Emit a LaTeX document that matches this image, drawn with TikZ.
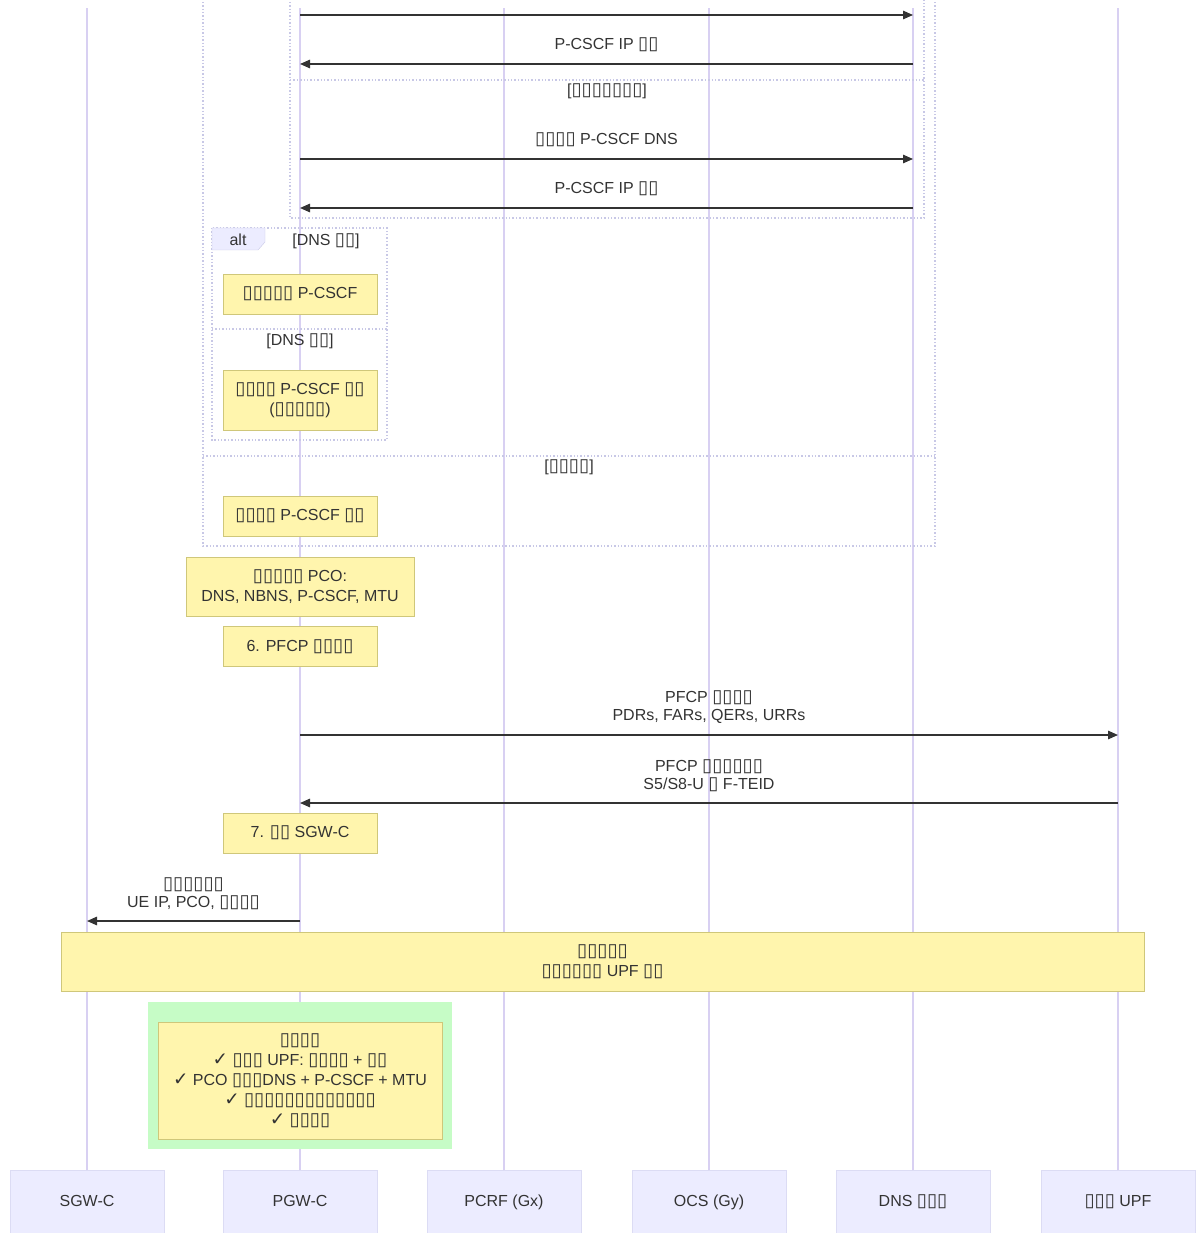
\documentclass[tikz,border=0pt]{standalone}
\usepackage{fontspec}
\setmainfont{Liberation Sans}
\newfontfamily\boxfont{DejaVu Sans}[Scale=1.15]
\usetikzlibrary{arrows.meta, positioning}
\definecolor{lifeline}{HTML}{D8D0F2}
\definecolor{actorfill}{HTML}{ECECFF}
\definecolor{actorline}{HTML}{DCDCF4}
\definecolor{notefill}{HTML}{FFF5AD}
\definecolor{noteline}{HTML}{CFC77A}
\definecolor{framecol}{HTML}{C8C8E6}
\definecolor{msgcol}{HTML}{333333}
\definecolor{donegreen}{HTML}{C6FCC6}
\newcommand{\cjk}[1]{{\boxfont #1}}
\newcommand{\ok}{{\boxfont ✓}}

\begin{document}
\begin{tikzpicture}[
    x=1pt, y=-1pt,
    font=\fontsize{16}{20}\selectfont,
    actor/.style={rectangle, draw=actorline, fill=actorfill, minimum width=154, minimum height=63, text height=11.5, text depth=3.5, text=msgcol},
    life/.style={draw=lifeline, line width=1.2},
    note/.style={rectangle, draw=noteline, fill=notefill, minimum width=154, minimum height=40, align=center, text=msgcol},
    msg/.style={-{Triangle[length=10pt, width=8.5pt]}, line width=1.4, msgcol},
    msglabel/.style={align=center, text=msgcol, font=\fontsize{16}{18.5}\selectfont},
    frame/.style={draw=framecol, dotted, line width=1.4},
    guard/.style={text=msgcol}
]
\useasboundingbox (0,0) rectangle (1198,1233);

% Participants
\node[actor] (sgw) at (87,1202) {SGW-C};
\node[actor] (pgw) at (300,1202) {PGW-C};
\node[actor] (pcrf) at (504,1202) {PCRF (Gx)};
\node[actor] (ocs) at (709,1202) {OCS (Gy)};
\node[actor] (dns) at (913,1202) {DNS \cjk{▯▯▯}};
\node[actor] (upf) at (1118,1202) {\cjk{▯▯▯} UPF};

% Lifelines
\coordinate (top) at (0,8);
\draw[life] (sgw.north) -- (sgw.north |- top);
\draw[life] (pgw.north) -- (pgw.north |- top);
\draw[life] (pcrf.north) -- (pcrf.north |- top);
\draw[life] (ocs.north) -- (ocs.north |- top);
\draw[life] (dns.north) -- (dns.north |- top);
\draw[life] (upf.north) -- (upf.north |- top);

% Frames
\draw[frame] (203,-5) rectangle (935,546);
\draw[frame] (203,456) -- (935,456);
\node[guard] (elseguard) at (569,467) {[\cjk{▯▯▯▯}]};
\draw[frame] (290,-5) rectangle (924,218);
\draw[frame] (290,80) -- (924,80);
\node[guard] (retryguard) at (607,91) {[\cjk{▯▯▯▯▯▯▯}]};
\draw[frame] (212,228) rectangle (387,440);
\draw[frame] (212,329) -- (387,329);
\filldraw[draw=framecol, fill=actorfill] (212,228) -- (265,228) -- (265,242) -- (258,250) -- (212,250) -- cycle;
\node[text=msgcol] (alttag) at (238,240) {alt};
\node[guard] (okguard) at (326,241) {[DNS \cjk{▯▯}]};
\node[guard] (failguard) at (300,341) {[DNS \cjk{▯▯}]};

% Messages
\coordinate (m1) at (0,15);
\coordinate (m2) at (0,64);
\coordinate (m3) at (0,159);
\coordinate (m4) at (0,208);
\coordinate (m5) at (0,735);
\coordinate (m6) at (0,803);
\coordinate (m7) at (0,921);
\draw[msg] (pgw |- m1) -- (dns |- m1);
\draw[msg] (dns |- m2) -- node[msglabel, above=8pt] {P-CSCF IP \cjk{▯▯}} (pgw |- m2);
\draw[msg] (pgw |- m3) -- node[msglabel, above=8pt] {\cjk{▯▯▯▯} P-CSCF DNS} (dns |- m3);
\draw[msg] (dns |- m4) -- node[msglabel, above=8pt] {P-CSCF IP \cjk{▯▯}} (pgw |- m4);
\draw[msg] (pgw |- m5) -- node[msglabel, above=7pt] {PFCP \cjk{▯▯▯▯}\\PDRs, FARs, QERs, URRs} (upf |- m5);
\draw[msg] (upf |- m6) -- node[msglabel, above=7pt] {PFCP \cjk{▯▯▯▯▯▯}\\S5/S8-U \cjk{▯} F-TEID} (pgw |- m6);
\draw[msg] (pgw |- m7) -- node[msglabel, above=7pt] {\cjk{▯▯▯▯▯▯}\\UE IP, PCO, \cjk{▯▯▯▯}} (sgw |- m7);

% Notes
\node[note] (dnsok) at (300,294) {\cjk{▯▯▯▯▯} P-CSCF};
\node[note, minimum height=60] (dnsfail) at (300,400) {\cjk{▯▯▯▯} P-CSCF \cjk{▯▯}\\(\cjk{▯▯▯▯▯})};
\node[note] (static) at (300,516) {\cjk{▯▯▯▯} P-CSCF \cjk{▯▯}};
\node[note, minimum width=228, minimum height=59] (pco) at (300,586.5) {\cjk{▯▯▯▯▯} PCO:\\DNS, NBNS, P-CSCF, MTU};
\node[note] (step6) at (300,646.5) {6. PFCP \cjk{▯▯▯▯}};
\node[note] (step7) at (300,833) {7. \cjk{▯▯} SGW-C};
\node[note, minimum width=1083, minimum height=59] (summary) at (602.5,961.5) {\cjk{▯▯▯▯▯}\\\cjk{▯▯▯▯▯▯} UPF \cjk{▯▯}};
\node[fill=donegreen, minimum width=304, minimum height=147] (donebg) at (300,1075.5) {};
\node[note, minimum width=284, minimum height=117] (done) at (300,1080.5) {\cjk{▯▯▯▯}\\\ok{} \cjk{▯▯▯} UPF: \cjk{▯▯▯▯} + \cjk{▯▯}\\\ok{} PCO \cjk{▯▯▯}DNS + P-CSCF + MTU\\\ok{} \cjk{▯▯▯▯▯▯▯▯▯▯▯▯▯}\\\ok{} \cjk{▯▯▯▯}};
\end{tikzpicture}
\end{document}
